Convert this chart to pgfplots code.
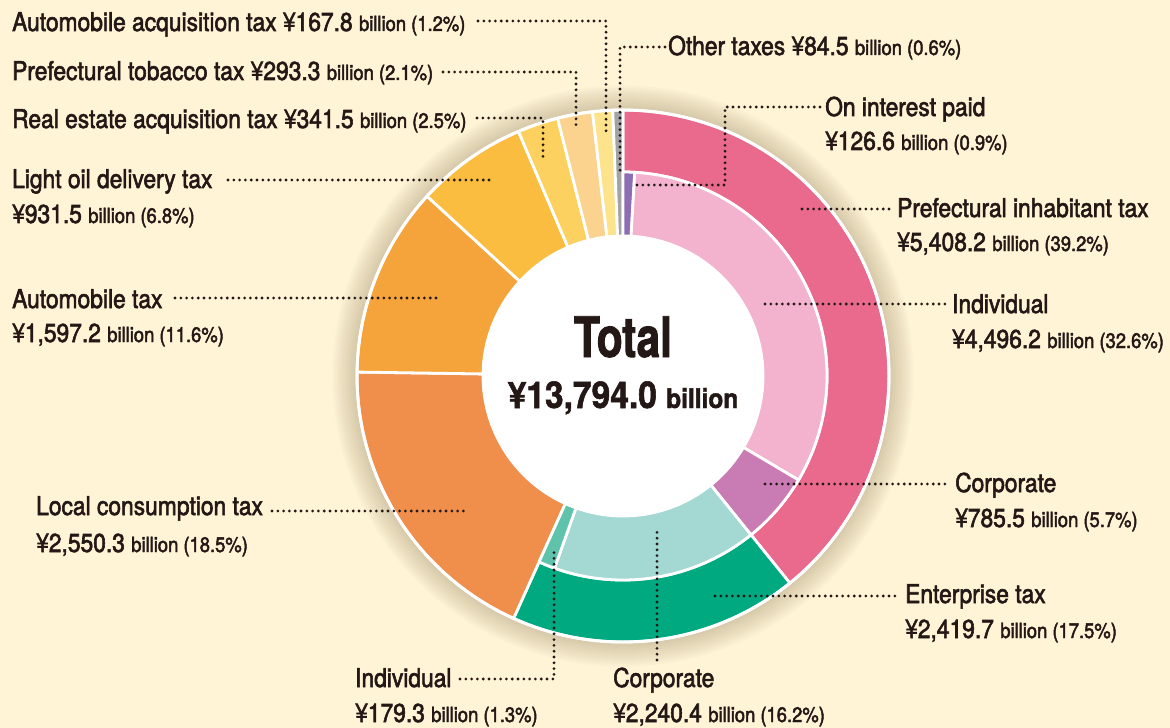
\documentclass[border=0pt]{standalone}
\usepackage{pgfplots}
\pgfplotsset{compat=1.18}
\usepackage{fontspec}
\setmainfont{TeX Gyre Heros}[FakeStretch=0.89]
\newfontfamily\labfont{TeX Gyre Heros}[FakeStretch=0.88, FakeBold=2.2]
\newfontfamily\totfont{TeX Gyre Heros}[FakeStretch=0.76, FakeBold=1.5]
\newfontfamily\numfont{TeX Gyre Heros}[FakeStretch=0.91, FakeBold=1.5]
\definecolor{bg}{HTML}{FFF4D6}
\definecolor{txt}{HTML}{231815}
\definecolor{cPref}{HTML}{E96A8D}
\definecolor{cInd}{HTML}{F3B3CE}
\definecolor{cCorp}{HTML}{C97BB3}
\definecolor{cInt}{HTML}{8D6DB3}
\definecolor{cEnt}{HTML}{00A97F}
\definecolor{cECorp}{HTML}{A4D8D3}
\definecolor{cEInd}{HTML}{5FC2AB}
\definecolor{cLocal}{HTML}{F08E4C}
\definecolor{cAuto}{HTML}{F5A43B}
\definecolor{cOil}{HTML}{FBBD3F}
\definecolor{cReal}{HTML}{FDD15F}
\definecolor{cTob}{HTML}{FBD38F}
\definecolor{cAcq}{HTML}{FDE38B}
\definecolor{cOther}{HTML}{A3A3A3}
\definecolor{shad}{HTML}{7A6440}
\def\cx{623}\def\cy{376}
\def\total{13794}
\gdef\cum{0}
% value, inner radius, outer radius, colour
\newcommand\slice[4]{%
  \pgfmathsetmacro\tA{\cum/\total*360}%
  \pgfmathsetmacro\tB{(\cum+#1)/\total*360}%
  \pgfmathsetmacro\nc{\cum+#1}%
  \global\let\cum\nc
  \edef\doslice{\noexpand\addplot[fill=#4, draw=white, line width=2.8bp, line join=round, domain=0:4, samples=321]
   ({\cx+((x<1)?#3:((x<2)?(#3-(x-1)*(#3-#2)):((x<3)?#2:(#2+(x-3)*(#3-#2)))))*sin((x<2)?(\tA+min(x,1)*(\tB-\tA)):((x<3)?(\tB-(x-2)*(\tB-\tA)):\tA))},
    {\cy-((x<1)?#3:((x<2)?(#3-(x-1)*(#3-#2)):((x<3)?#2:(#2+(x-3)*(#3-#2)))))*cos((x<2)?(\tA+min(x,1)*(\tB-\tA)):((x<3)?(\tB-(x-2)*(\tB-\tA)):\tA))});}%
  \doslice
}
\newcommand\lgsz{\fontsize{26}{30}\selectfont}
\newcommand\sm{\fontsize{21}{25}\selectfont}
\tikzset{lead/.style={txt, line width=3.1bp, line cap=round, dash pattern=on 0pt off 5.8bp},
  lab/.style={anchor=base west, inner sep=0pt, text=txt, font=\labfont\lgsz}}
\begin{document}
\begin{tikzpicture}
\begin{axis}[x=1bp, y=1bp, y dir=reverse, xmin=0, xmax=1170, ymin=0, ymax=728,
  hide axis, clip=false]
\fill[bg] (axis cs:0,0) rectangle (axis cs:1170,728);
% soft shadow around the ring
\pgfplotsinvokeforeach{268,270.5,273,275.5,278,280.5,283,285.5,288,290.5}{
  \fill[shad, opacity=0.032] (axis cs:\cx,\cy) circle[radius=#1bp];
}
% outer ring (clockwise from the top)
\slice{5408.2}{204}{266}{cPref}
\slice{2419.7}{204}{266}{cEnt}
\slice{2550.3}{140}{266}{cLocal}
\slice{1597.2}{140}{266}{cAuto}
\slice{931.5}{140}{266}{cOil}
\slice{341.5}{140}{266}{cReal}
\slice{293.3}{140}{266}{cTob}
\slice{167.8}{140}{266}{cAcq}
\slice{84.5}{140}{266}{cOther}
% inner ring
\gdef\cum{0}
\slice{126.6}{140}{204}{cInt}
\slice{4496.2}{140}{204}{cInd}
\slice{785.5}{140}{204}{cCorp}
\slice{2240.4}{140}{204}{cECorp}
\slice{179.3}{140}{204}{cEInd}
% centre and outline
\addplot[fill=white, draw=none, domain=0:360, samples=181] ({\cx+141*sin(x)},{\cy-141*cos(x)});
\addplot[draw=white, line width=3bp, domain=0:360, samples=241] ({\cx+266*sin(x)},{\cy-266*cos(x)});
% centre text
\node[anchor=base, inner sep=0pt, text=txt] at (axis cs:623,357) {\totfont\bfseries\fontsize{56}{60}\selectfont Total};
\node[anchor=base, inner sep=0pt, text=txt] at (axis cs:623,408) {\numfont\bfseries\fontsize{37}{40}\selectfont ¥13,794.0 \fontsize{27}{30}\selectfont billion};
% leaders
\draw[lead] (axis cs:478,21) -- (axis cs:606,21) -- (axis cs:606,131);
\draw[lead] (axis cs:443,72) -- (axis cs:576,72) -- (axis cs:576,130);
\draw[lead] (axis cs:477,118) -- (axis cs:543,118) -- (axis cs:543,160);
\draw[lead] (axis cs:665,47) -- (axis cs:620,47) -- (axis cs:620,175);
\draw[lead] (axis cs:228,180) -- (axis cs:490,180);
\draw[lead] (axis cs:175,298) -- (axis cs:440,298);
\draw[lead] (axis cs:272,511) -- (axis cs:467,511);
\draw[lead] (axis cs:820,107) -- (axis cs:725,107) -- (axis cs:725,185) -- (axis cs:633,185);
\draw[lead] (axis cs:802,209) -- (axis cs:893,209);
\draw[lead] (axis cs:765,304) -- (axis cs:948,304);
\draw[lead] (axis cs:765,484) -- (axis cs:947,484);
\draw[lead] (axis cs:715,596) -- (axis cs:900,596);
\draw[lead] (axis cs:460,679) -- (axis cs:554,679) -- (axis cs:554,549);
\draw[lead] (axis cs:657,660) -- (axis cs:657,528);
% labels
\node[lab] at (axis cs:12,31) {Automobile acquisition tax ¥167.8 \sm billion (1.2\%)};
\node[lab] at (axis cs:12,80) {Prefectural tobacco tax ¥293.3 \sm billion (2.1\%)};
\node[lab] at (axis cs:12,128) {Real estate acquisition tax ¥341.5 \sm billion (2.5\%)};
\node[lab] at (axis cs:668,55) {Other taxes ¥84.5 \sm billion (0.6\%)};
\node[lab] at (axis cs:825,116) {On interest paid};
\node[lab] at (axis cs:825,150) {¥126.6 \sm billion (0.9\%)};
\node[lab] at (axis cs:897,217) {Prefectural inhabitant tax};
\node[lab] at (axis cs:897,251) {¥5,408.2 \sm billion (39.2\%)};
\node[lab] at (axis cs:952,313) {Individual};
\node[lab] at (axis cs:952,348) {¥4,496.2 \sm billion (32.6\%)};
\node[lab] at (axis cs:955,492) {Corporate};
\node[lab] at (axis cs:955,527) {¥785.5 \sm billion (5.7\%)};
\node[lab] at (axis cs:905,603) {Enterprise tax};
\node[lab] at (axis cs:905,638) {¥2,419.7 \sm billion (17.5\%)};
\node[lab] at (axis cs:12,188) {Light oil delivery tax};
\node[lab] at (axis cs:12,223) {¥931.5 \sm billion (6.8\%)};
\node[lab] at (axis cs:12,308) {Automobile tax};
\node[lab] at (axis cs:12,342) {¥1,597.2 \sm billion (11.6\%)};
\node[lab] at (axis cs:36,515) {Local consumption tax};
\node[lab] at (axis cs:36,552) {¥2,550.3 \sm billion (18.5\%)};
\node[lab] at (axis cs:355,687) {Individual};
\node[lab] at (axis cs:355,722) {¥179.3 \sm billion (1.3\%)};
\node[lab] at (axis cs:613,687) {Corporate};
\node[lab] at (axis cs:613,722) {¥2,240.4 \sm billion (16.2\%)};
\end{axis}
\end{tikzpicture}
\end{document}
